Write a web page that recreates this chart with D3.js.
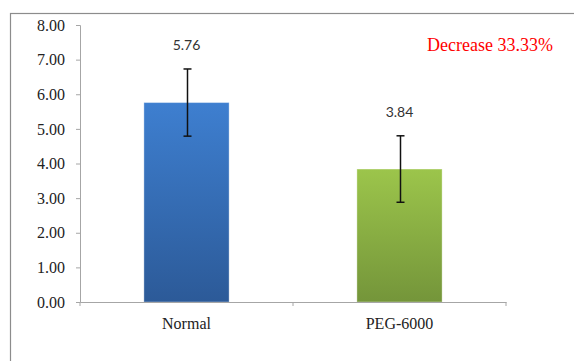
<!DOCTYPE html>
<html><head><meta charset="utf-8">
<script src="https://cdn.jsdelivr.net/npm/d3@7"></script>
<style>body{margin:0;background:#fff}svg{display:block}
.serif{font-family:"Liberation Serif","Times New Roman","DejaVu Serif",serif !important}
.sans{font-family:Lato,"Open Sans",sans-serif !important}
</style>
</head><body>
<svg id="c" width="574" height="361"></svg>
<script>
const categories = ["Normal", "PEG-6000"];
const values = [5.76, 3.84];
const errors = [0.97, 0.96];
const valueLabels = ["5.76", "3.84"];
const yTicks = [0, 1, 2, 3, 4, 5, 6, 7, 8];
const annotation = "Decrease 33.33%";

const svg = d3.select("#c");
const x0 = 80, x1 = 506, yTop = 25, yBot = 302;
const x = d3.scaleBand().domain(categories).range([x0, x1]).paddingInner(0.6).paddingOuter(0.3);
const y = d3.scaleLinear().domain([0, 8]).range([yBot, yTop]);

// outer frame
svg.append("rect").attr("x", 10.5).attr("y", 13.5).attr("width", 600).attr("height", 400)
  .attr("fill", "none").attr("stroke", "#8c8c8c").attr("stroke-width", 1.2);

const defs = svg.append("defs");
const grads = [["gBlue", "#3e7fd0", "#2c5a98"], ["gGreen", "#9cc54b", "#74953a"]];
grads.forEach(([id, a, b]) => {
  const g = defs.append("linearGradient").attr("id", id).attr("x1", 0).attr("y1", 0).attr("x2", 0).attr("y2", 1);
  g.append("stop").attr("offset", 0).attr("stop-color", a);
  g.append("stop").attr("offset", 1).attr("stop-color", b);
});

// y axis
const yAxis = svg.append("g").attr("transform", `translate(${x0},0)`)
  .call(d3.axisLeft(y).tickValues(yTicks).tickFormat(d3.format(".2f")).tickSizeOuter(0).tickSize(4).tickPadding(11));
yAxis.attr("font-family", null);
yAxis.select(".domain").attr("stroke", "#a6a6a6");
yAxis.selectAll(".tick line").attr("stroke", "#a6a6a6");
yAxis.selectAll("text").attr("class", "serif").attr("font-size", 16).attr("fill", "#222");

// bars
svg.selectAll("rect.bar").data(categories).enter().append("rect")
  .attr("class", "bar")
  .attr("x", d => x(d)).attr("width", x.bandwidth())
  .attr("y", (d, i) => y(values[i])).attr("height", (d, i) => y(0) - y(values[i]))
  .attr("fill", (d, i) => `url(#${grads[i][0]})`)
  .attr("stroke", "rgba(255,255,255,0.35)").attr("stroke-width", 1);

// x axis
const xAxis = svg.append("g").attr("transform", `translate(0,${yBot})`)
  .call(d3.axisBottom(x).tickSize(0).tickSizeOuter(0).tickPadding(16));
xAxis.attr("font-family", null);
xAxis.select(".domain").attr("stroke", "#a6a6a6");
xAxis.selectAll("text").attr("class", "serif").attr("font-size", 16).attr("fill", "#222");
const bounds = [x0, (x0 + x1) / 2, x1];
svg.selectAll("line.xt").data(bounds).enter().append("line")
  .attr("x1", d => d).attr("x2", d => d).attr("y1", yBot).attr("y2", yBot + 4)
  .attr("stroke", "#a6a6a6");

// error bars
const eg = svg.selectAll("g.err").data(categories).enter().append("g").attr("class", "err");
eg.each(function(d, i) {
  const g = d3.select(this);
  const cx = Math.round(x(d) + x.bandwidth() / 2) + 0.5;
  const t = y(values[i] + errors[i]), b = y(values[i] - errors[i]);
  g.append("line").attr("x1", cx).attr("x2", cx).attr("y1", t).attr("y2", b).attr("stroke", "#111").attr("stroke-width", 1.5);
  [t, b].forEach(v => g.append("line").attr("x1", cx - 4).attr("x2", cx + 4).attr("y1", v).attr("y2", v).attr("stroke", "#111").attr("stroke-width", 1.5));
});

// value labels
svg.selectAll("text.vl").data(categories).enter().append("text")
  .attr("class", "vl sans")
  .attr("x", d => x(d) + x.bandwidth() / 2)
  .attr("y", (d, i) => y(values[i] + errors[i]) - 19)
  .attr("text-anchor", "middle")
  .attr("font-size", 14).attr("fill", "#333")
  .text((d, i) => valueLabels[i]);

// annotation
svg.append("text").attr("class", "serif").attr("x", 553).attr("y", 51).attr("text-anchor", "end")
  .attr("font-size", 18).attr("fill", "#ff0000")
  .text(annotation);
</script>
</body></html>
